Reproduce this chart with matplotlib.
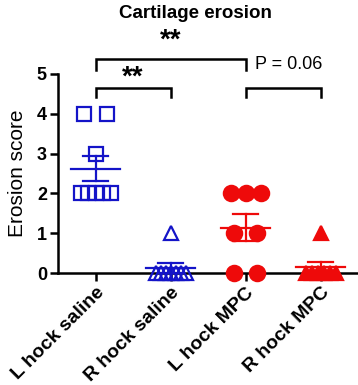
import numpy as np
import matplotlib
matplotlib.use('Agg')
from matplotlib import pyplot as plt

plt.rcParams['font.family'] = ['Liberation Sans', 'DejaVu Sans']

groups = ['L hock saline', 'R hock saline', 'L hock MPC', 'R hock MPC']
scores = [
    [4, 4, 3, 2, 2, 2, 2, 2],
    [1, 0, 0, 0, 0, 0, 0, 0],
    [2, 2, 2, 1, 1, 0, 0],
    [1, 0, 0, 0, 0, 0, 0],
]
colors = ['#1414c8', '#1414c8', '#ee0a0a', '#ee0a0a']
markers = ['s', '^', 'o', '^']
filled = [False, False, True, True]

PX_PER_X = 75.0  # pixels per category unit, used for the scatter spread


def spread(values):
    # GraphPad-like horizontal spread of tied values
    values = np.asarray(values, dtype=float)
    offs = np.zeros(len(values))
    for v in np.unique(values):
        idx = np.where(values == v)[0]
        n = len(idx)
        if n > 1:
            span = min(23 * (n - 1), 30) / PX_PER_X
            offs[idx] = np.linspace(-span / 2, span / 2, n)
    return offs


fig = plt.figure(figsize=(3.58, 3.85), dpi=100)
ax = fig.add_axes([58 / 358, 112 / 385, 300 / 358, 199 / 385])

for i, vals in enumerate(scores):
    vals = np.asarray(vals, dtype=float)
    x = i + spread(vals)
    c = colors[i]
    ax.plot(x, vals, linestyle='none', marker=markers[i], ms=10.5 if markers[i] != 'o' else 11,
            mec=c, mfc=c if filled[i] else 'none', mew=1.6, clip_on=False, zorder=3)
    mean = vals.mean()
    sem = vals.std(ddof=1) / np.sqrt(len(vals))
    ax.plot([i - 0.33, i + 0.33], [mean, mean], color=c, lw=1.6, zorder=4, clip_on=False)
    ax.plot([i, i], [mean - sem, mean + sem], color=c, lw=1.6, zorder=4, clip_on=False)
    for y in (mean - sem, mean + sem):
        ax.plot([i - 0.17, i + 0.17], [y, y], color=c, lw=1.6, zorder=4, clip_on=False)


def bracket(x1, x2, y, drop):
    ax.plot([x1, x1, x2, x2], [y - drop, y, y, y - drop], color='black', lw=1.8,
            clip_on=False, solid_joinstyle='miter')


bracket(0, 2, 5.38, 0.28)
bracket(0, 1, 4.65, 0.24)
bracket(2, 3, 4.65, 0.24)
ax.text(1.0, 5.66, '**', ha='center', va='baseline', fontsize=20, fontweight='bold')
ax.text(0.5, 4.74, '**', ha='center', va='baseline', fontsize=20, fontweight='bold')
ax.text(2.13, 5.25, 'P = 0.06', ha='left', va='center', fontsize=13)

ax.set_xlim(-0.5, 3.5)
ax.set_ylim(0, 5)
ax.set_yticks(range(6))
ax.set_xticks(range(4))
ax.set_xticklabels(groups, rotation=45, ha='right', rotation_mode='anchor',
                   fontsize=14, fontweight='bold')
for lab in ax.get_yticklabels():
    lab.set_fontsize(13)
    lab.set_fontweight('bold')
ax.tick_params(width=1.8, length=6, pad=2)
ax.set_ylabel('Erosion score', fontsize=15, labelpad=7)
for s in ('top', 'right'):
    ax.spines[s].set_visible(False)
for s in ('left', 'bottom'):
    ax.spines[s].set_linewidth(1.8)

fig.text(195 / 358, 1 - 14 / 385, 'Cartilage erosion', ha='center', va='center',
         fontsize=13.5, fontweight='bold')

fig.savefig('out.png', dpi=100)
